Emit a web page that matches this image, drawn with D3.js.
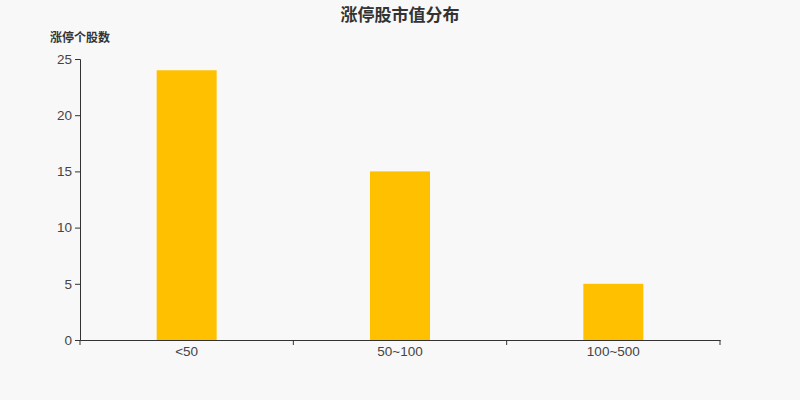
<!DOCTYPE html>
<html>
<head>
<meta charset="utf-8">
<script src="https://cdn.jsdelivr.net/npm/d3@7"></script>
<style>
  body { margin: 0; background: #f8f8f8; }
  svg { display: block; }
</style>
</head>
<body>
<div id="chart"></div>
<script>
// chart data
let categories = ["<50", "50~100", "100~500"]
let counts = [24, 15, 5]
let yTicks = [0, 5, 10, 15, 20, 25]

let width = 800, height = 400
let margin = {top: 59, right: 80, bottom: 60, left: 80}

let svg = d3.select("#chart")
  .append("svg")
  .attr("width", width)
  .attr("height", height)
  .style("font-family", "'Noto Sans CJK SC', 'Liberation Sans', sans-serif")

svg.append("rect")
  .attr("width", width)
  .attr("height", height)
  .attr("fill", "#f8f8f8")

let x = d3.scaleBand()
  .domain(categories)
  .range([margin.left, width - margin.right])

let y = d3.scaleLinear()
  .domain([0, 25])
  .range([height - margin.bottom, margin.top])

let barWidth = 60

// bars
svg.selectAll("rect.bar")
  .data(counts)
  .enter()
  .append("rect")
  .attr("class", "bar")
  .attr("x", function(d, i) { return x(categories[i]) + x.bandwidth() / 2 - barWidth / 2; })
  .attr("width", barWidth)
  .attr("y", function(d) { return y(d); })
  .attr("height", function(d) { return y(0) - y(d); })
  .attr("fill", "#ffc000")

// y axis
let yAxis = svg.append("g")
  .attr("transform", "translate(" + margin.left + ",0)")
  .call(d3.axisLeft(y).tickValues(yTicks).tickSize(5).tickPadding(3))

// x axis with ticks at band edges
let edges = categories.map(function(c) { return x(c); }).concat([width - margin.right])
let xAxis = svg.append("g")
  .attr("transform", "translate(0," + y(0) + ")")
  .call(d3.axisBottom(x).tickSize(0).tickPadding(6))

xAxis.selectAll(".edge")
  .data(edges)
  .enter()
  .append("line")
  .attr("class", "edge")
  .attr("x1", function(d) { return d; })
  .attr("x2", function(d) { return d; })
  .attr("y1", 0)
  .attr("y2", 5)
  .attr("stroke", "#333")

svg.selectAll(".domain").attr("stroke", "#333")
svg.selectAll(".tick line").attr("stroke", "#333")
svg.selectAll(".tick text")
  .attr("fill", "#444")
  .style("font-size", "13.5px")
  .style("font-family", "'Liberation Sans', sans-serif")

// title
svg.append("text")
  .attr("x", width / 2)
  .attr("y", 21)
  .attr("text-anchor", "middle")
  .attr("fill", "#333")
  .style("font-size", "17px")
  .style("font-weight", "bold")
  .text("涨停股市值分布")

// y axis label
svg.append("text")
  .attr("x", 80)
  .attr("y", 42)
  .attr("text-anchor", "middle")
  .attr("fill", "#333")
  .style("font-size", "12px")
  .style("font-weight", "bold")
  .text("涨停个股数")
</script>
</body>
</html>
